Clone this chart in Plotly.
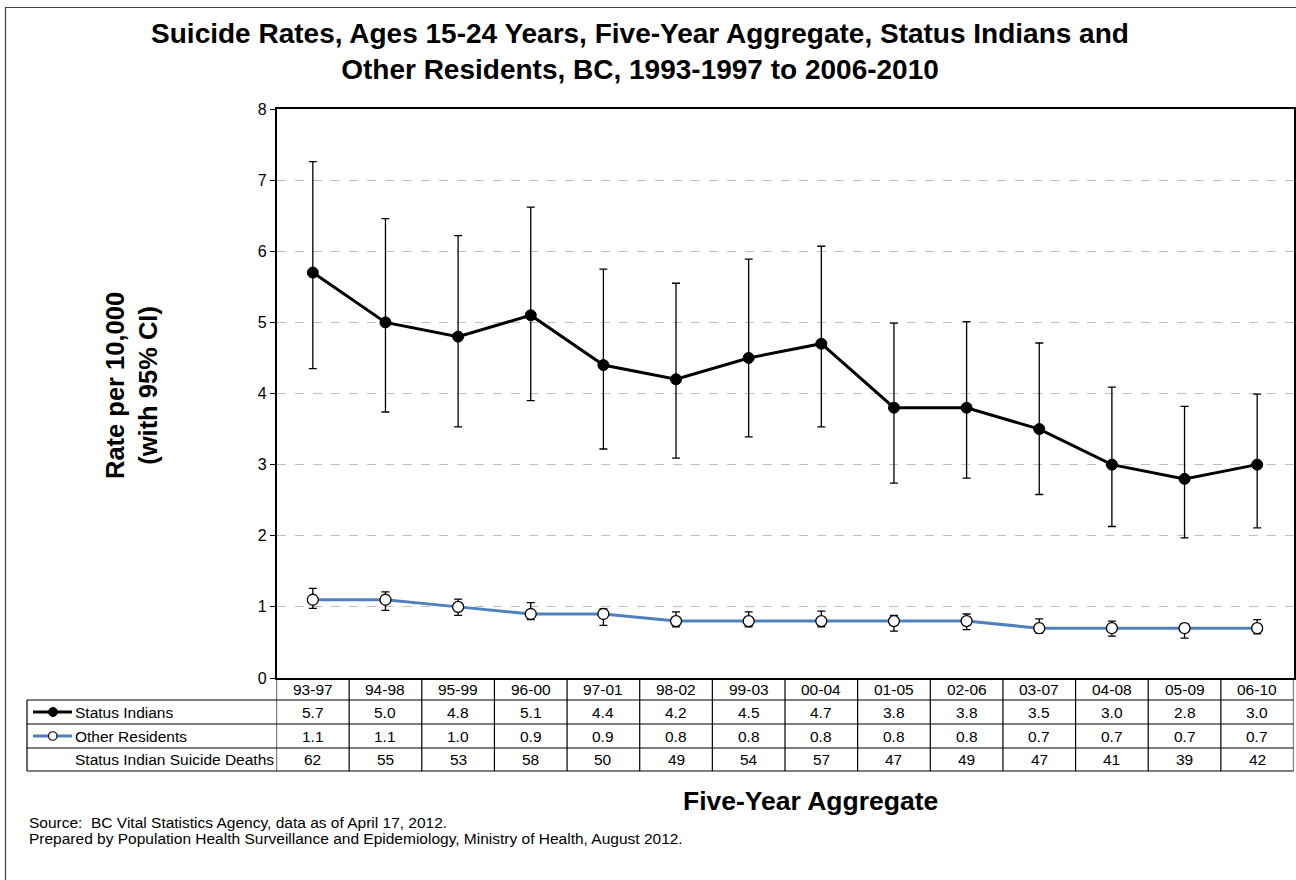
import plotly.graph_objects as go

# Five-year aggregate periods
periods = ["93-97", "94-98", "95-99", "96-00", "97-01", "98-02", "99-03",
           "00-04", "01-05", "02-06", "03-07", "04-08", "05-09", "06-10"]

# Status Indians: rate per 10,000 with 95% CI bounds
si_rate = [5.7, 5.0, 4.8, 5.1, 4.4, 4.2, 4.5, 4.7, 3.8, 3.8, 3.5, 3.0, 2.8, 3.0]
si_upper = [7.26, 6.46, 6.22, 6.62, 5.75, 5.55, 5.89, 6.07, 4.99, 5.01, 4.71, 4.09, 3.82, 3.99]
si_lower = [4.35, 3.74, 3.53, 3.90, 3.22, 3.09, 3.39, 3.53, 2.74, 2.81, 2.58, 2.13, 1.97, 2.11]

# Other Residents: rate per 10,000 with 95% CI bounds
or_rate = [1.1, 1.1, 1.0, 0.9, 0.9, 0.8, 0.8, 0.8, 0.8, 0.8, 0.7, 0.7, 0.7, 0.7]
or_upper = [1.26, 1.21, 1.11, 1.06, 0.97, 0.93, 0.93, 0.94, 0.88, 0.90, 0.83, 0.80, 0.76, 0.82]
or_lower = [0.98, 0.95, 0.88, 0.82, 0.74, 0.72, 0.72, 0.72, 0.66, 0.68, 0.63, 0.59, 0.56, 0.62]

# Status Indian suicide deaths per period
si_deaths = [62, 55, 53, 58, 50, 49, 54, 57, 47, 49, 47, 41, 39, 42]

W, H = 1296, 880
FONT = "Liberation Sans, Arial, sans-serif"
BLUE = "#4f81bd"


def px(v):
    return v / W


def py(v):
    return 1 - v / H


fig = go.Figure()

fig.add_trace(go.Scatter(
    x=periods, y=si_rate, mode="lines+markers", name="Status Indians",
    line=dict(color="black", width=3),
    marker=dict(color="black", size=11, line=dict(color="black", width=1)),
    error_y=dict(type="data", symmetric=False,
                 array=[u - r for u, r in zip(si_upper, si_rate)],
                 arrayminus=[r - l for r, l in zip(si_rate, si_lower)],
                 color="black", thickness=1.3, width=4),
))

fig.add_trace(go.Scatter(
    x=periods, y=or_rate, mode="lines+markers", name="Other Residents",
    line=dict(color=BLUE, width=3),
    marker=dict(color="white", size=11, line=dict(color="black", width=1.3)),
    error_y=dict(type="data", symmetric=False,
                 array=[u - r for u, r in zip(or_upper, or_rate)],
                 arrayminus=[r - l for r, l in zip(or_rate, or_lower)],
                 color="black", thickness=1.3, width=4),
))

# Plot area geometry (pixels)
PL, PR, PT, PB = 276.5, 1293.5, 109, 678
TL = 27            # table left edge
ROWS = [678, 700, 724, 748, 771]   # table row boundaries

shapes = []
# outer chart frame
shapes.append(dict(type="rect", xref="paper", yref="paper",
                   x0=px(5.5), x1=px(W + 10), y0=py(H + 10), y1=py(7.5),
                   line=dict(color="#404040", width=1.2), layer="below"))
# table horizontal rules
for yb in ROWS[1:]:
    shapes.append(dict(type="line", xref="paper", yref="paper",
                       x0=px(TL), x1=px(PR), y0=py(yb), y1=py(yb),
                       line=dict(color="black", width=1.2)))
# table left edge
shapes.append(dict(type="line", xref="paper", yref="paper",
                   x0=px(TL), x1=px(TL), y0=py(ROWS[1]), y1=py(ROWS[-1]),
                   line=dict(color="black", width=1.2)))
# column separators at category boundaries
for i in range(len(periods) + 1):
    shapes.append(dict(type="line", xref="x", yref="paper",
                       x0=i - 0.5, x1=i - 0.5, y0=py(ROWS[0]), y1=py(ROWS[-1]),
                       line=dict(color="black", width=1.2)))
# legend keys in the table label column
ky1 = (ROWS[1] + ROWS[2]) / 2
ky2 = (ROWS[2] + ROWS[3]) / 2
shapes.append(dict(type="line", xref="paper", yref="paper",
                   x0=px(33), x1=px(72), y0=py(ky1), y1=py(ky1),
                   line=dict(color="black", width=3)))
shapes.append(dict(type="circle", xref="paper", yref="paper",
                   x0=px(48.5), x1=px(57.5), y0=py(ky1 + 4.5), y1=py(ky1 - 4.5),
                   fillcolor="black", line=dict(color="black", width=1)))
shapes.append(dict(type="line", xref="paper", yref="paper",
                   x0=px(33), x1=px(72), y0=py(ky2), y1=py(ky2),
                   line=dict(color=BLUE, width=3)))
shapes.append(dict(type="circle", xref="paper", yref="paper",
                   x0=px(48.5), x1=px(57), y0=py(ky2 + 4.25), y1=py(ky2 - 4.25),
                   fillcolor="white", line=dict(color="black", width=1.2)))

ann = []
tfont = dict(family=FONT, size=15.5, color="black")
row_centers = [(ROWS[k] + ROWS[k + 1]) / 2 for k in range(4)]
for i, p in enumerate(periods):
    for k, txt in enumerate([p, f"{si_rate[i]:.1f}", f"{or_rate[i]:.1f}", str(si_deaths[i])]):
        ann.append(dict(x=p, xref="x", y=py(row_centers[k]), yref="paper",
                        xanchor="center", yanchor="middle",
                        text=txt, showarrow=False, font=tfont))

for k, label in enumerate(["Status Indians", "Other Residents",
                           "Status Indian Suicide Deaths"]):
    ann.append(dict(x=px(73), xref="paper", y=py(row_centers[k + 1]), yref="paper",
                    text=label, showarrow=False, xanchor="left", yanchor="middle",
                    font=tfont))

# axis titles
ann.append(dict(x=px(131), xref="paper", y=py(386), yref="paper",
                xanchor="center", yanchor="middle",
                text="<b>Rate per 10,000<br>(with 95% CI)</b>", textangle=-90,
                showarrow=False, font=dict(family=FONT, size=25.5, color="black")))
ann.append(dict(x=px(810), xref="paper", y=py(801), yref="paper",
                xanchor="center", yanchor="middle",
                text="<b>Five-Year Aggregate</b>", showarrow=False,
                font=dict(family=FONT, size=26.5, color="black")))

# source notes
nfont = dict(family=FONT, size=15.5, color="black")
ann.append(dict(x=px(27), xref="paper", y=py(822), yref="paper",
                text="Source:  BC Vital Statistics Agency, data as of April 17, 2012.",
                showarrow=False, xanchor="left", yanchor="middle", font=nfont))
ann.append(dict(x=px(27), xref="paper", y=py(838), yref="paper",
                text="Prepared by Population Health Surveillance and Epidemiology, "
                     "Ministry of Health, August 2012.",
                showarrow=False, xanchor="left", yanchor="middle", font=nfont))

fig.update_layout(
    width=W, height=H, autosize=False,
    margin=dict(l=0, r=0, t=0, b=0, pad=0),
    paper_bgcolor="white", plot_bgcolor="white",
    showlegend=False,
    title=dict(text="<b>Suicide Rates, Ages 15-24 Years, Five-Year Aggregate, Status Indians and<br>"
                    "Other Residents, BC, 1993-1997 to 2006-2010</b>",
               x=px(640), xanchor="center", xref="paper",
               y=py(42.5), yanchor="middle", yref="paper", automargin=False,
               font=dict(family=FONT, size=28, color="black")),
    xaxis=dict(type="category", domain=[px(PL), px(PR)], range=[-0.5, len(periods) - 0.5],
               showticklabels=False, ticks="", showgrid=False, zeroline=False,
               showline=True, linecolor="black", linewidth=1.5, mirror=True,
               automargin=False),
    yaxis=dict(domain=[py(PB), py(PT)], range=[0, 8], dtick=1, tick0=0,
               ticks="outside", ticklen=5, tickcolor="black",
               tickfont=dict(family=FONT, size=16, color="black"),
               showgrid=True, gridcolor="#bfbfbf", gridwidth=1, griddash="dash",
               zeroline=False, showline=True, linecolor="black", linewidth=1.5,
               mirror=True, automargin=False),
    shapes=shapes,
    annotations=ann,
)

fig.write_html("out.html")
